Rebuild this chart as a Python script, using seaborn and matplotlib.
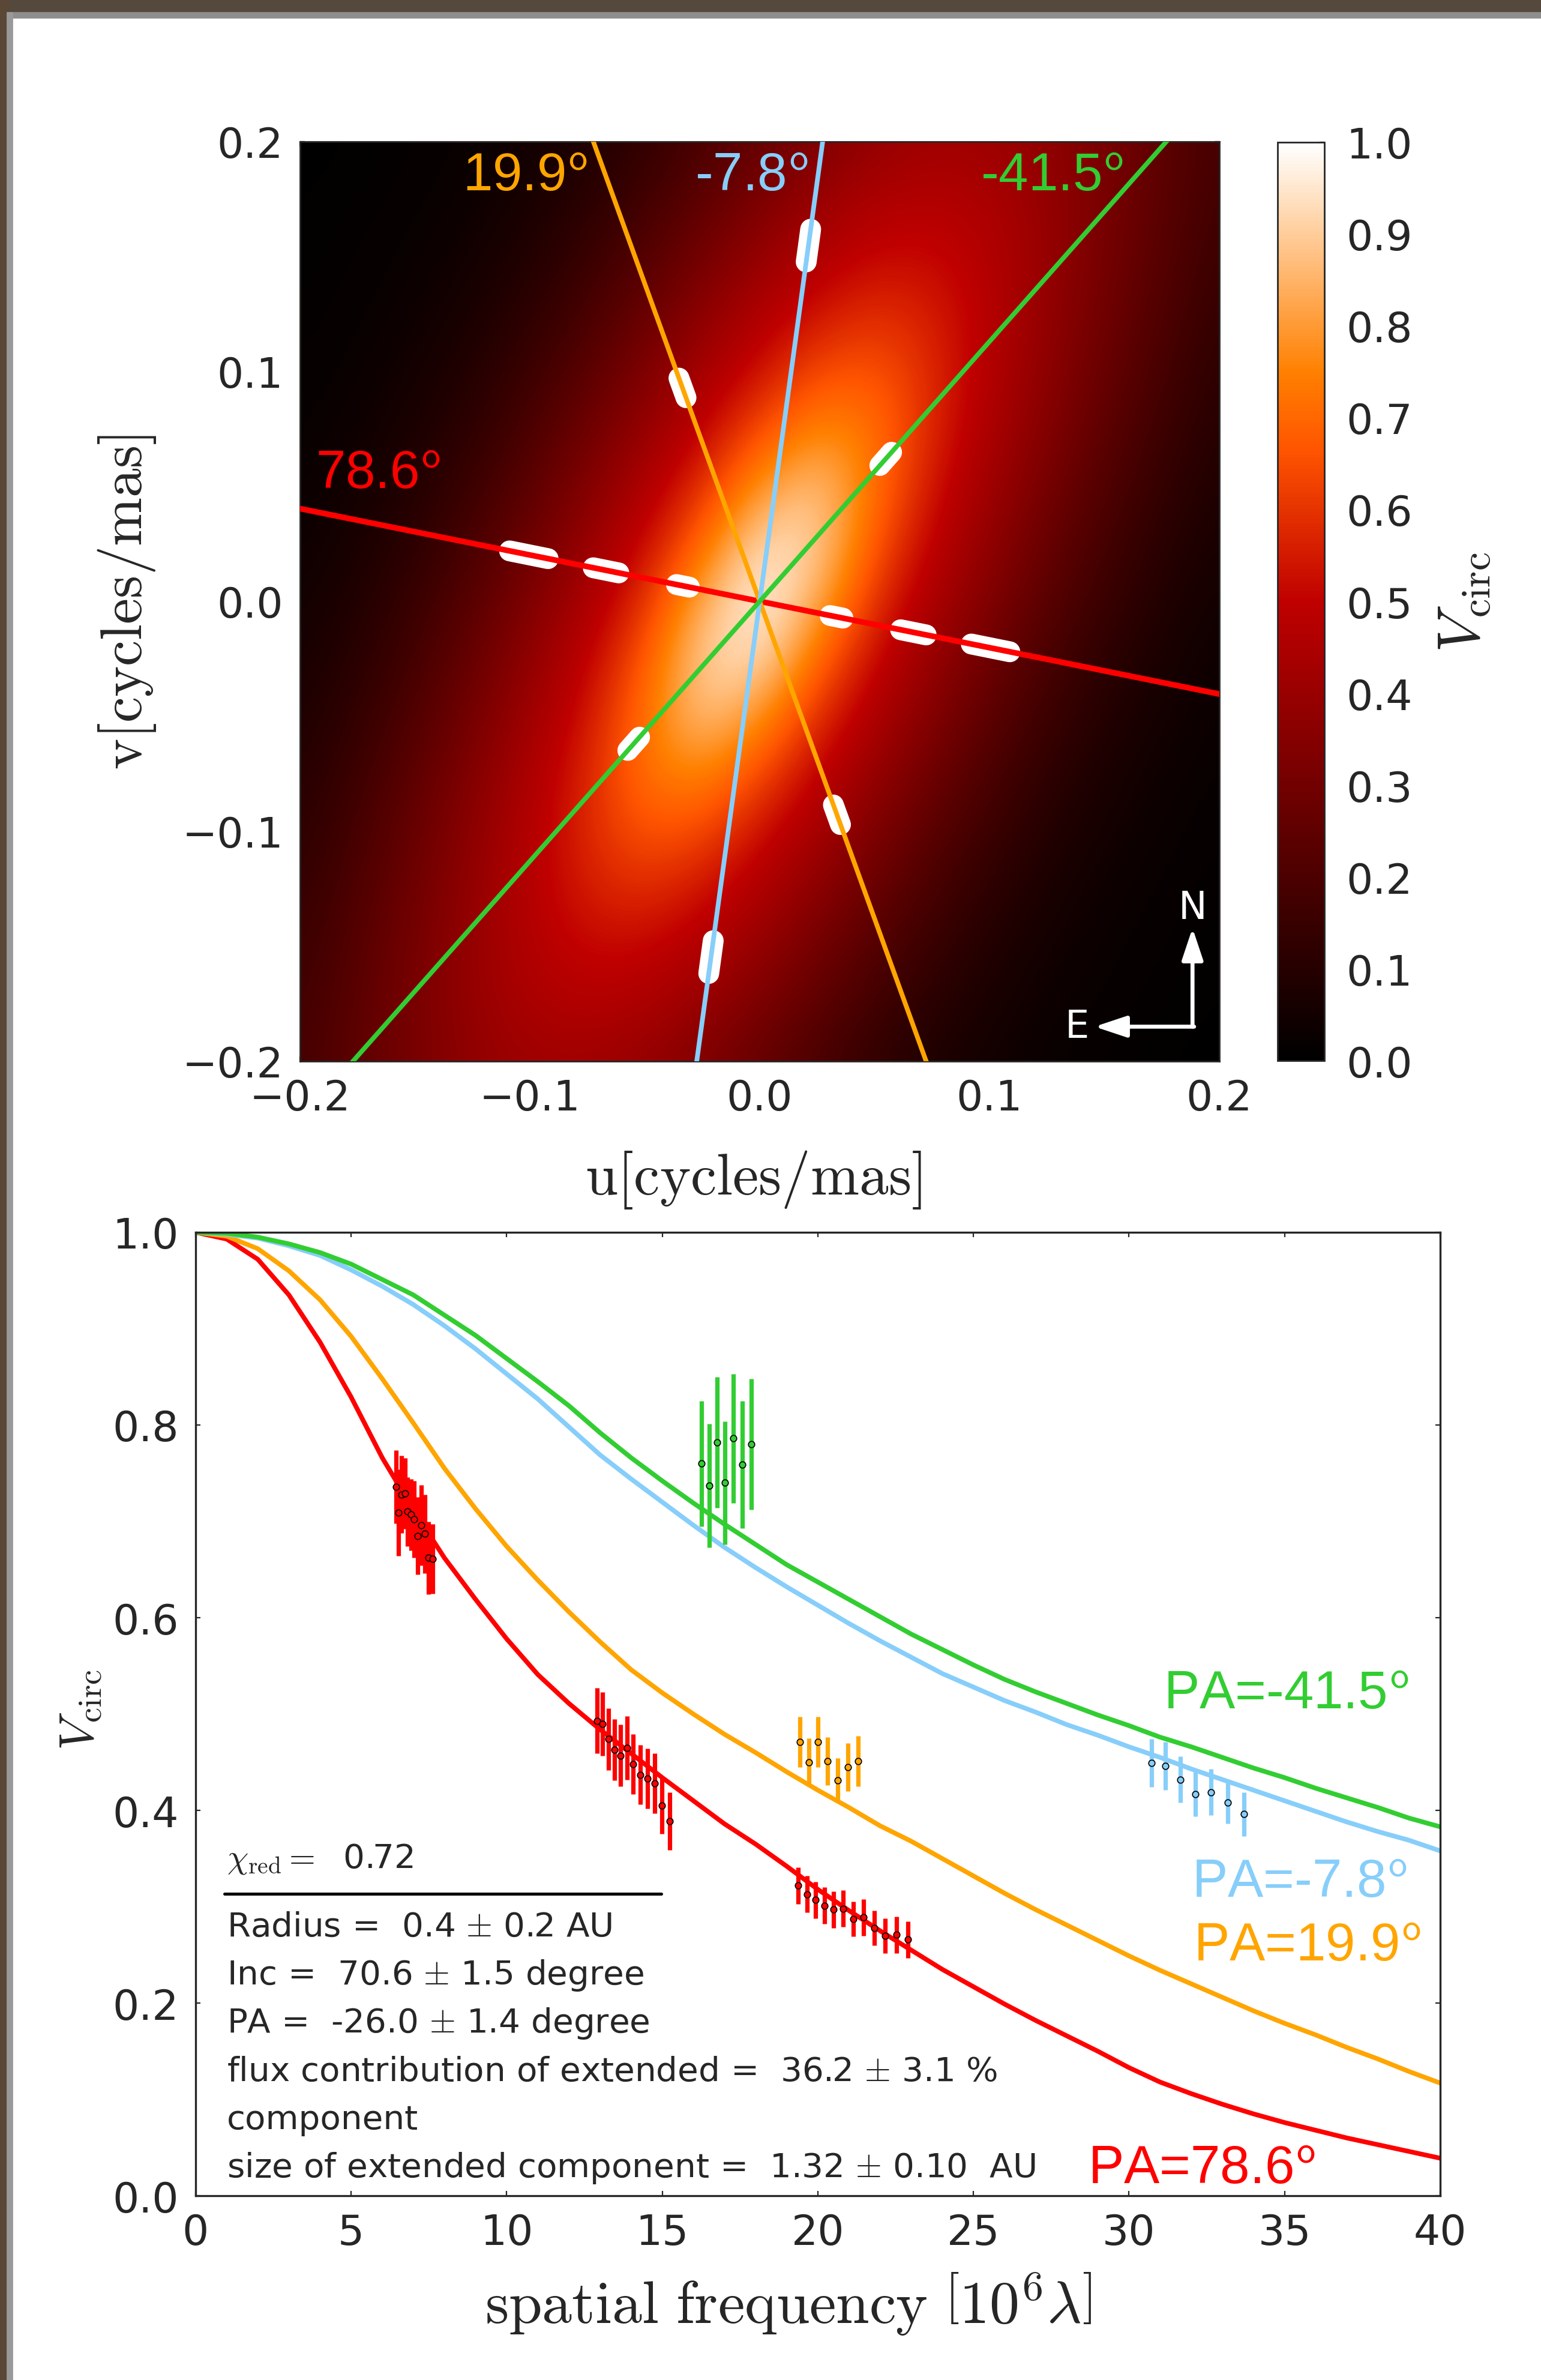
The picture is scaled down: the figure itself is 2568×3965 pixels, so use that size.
import numpy as np
import pandas as pd
import matplotlib
matplotlib.use("Agg")
import matplotlib.pyplot as plt
from matplotlib.patches import Rectangle
import seaborn as sns

# baseline position angles (deg), labels and colours
pa_angles = [78.6, 19.9, -7.8, -41.5]
pa_labels = ["78.6", "19.9", "-7.8", "-41.5"]
pa_colors = ["#ff0000", "#ffa500", "#87cefa", "#32cd32"]

# model V_circ curves read every 1e6 lambda
model_sf = [0, 1, 2, 3, 4, 5, 6, 7, 8, 9, 10, 11, 12, 13, 14, 15, 16, 17, 18, 19, 20,
            21, 22, 23, 24, 25, 26, 27, 28, 29, 30, 31, 32, 33, 34, 35, 36, 37, 38, 39, 40]
model_red = [1.000, 0.993, 0.972, 0.935, 0.886, 0.829, 0.766, 0.712, 0.662, 0.619, 0.578,
             0.541, 0.511, 0.484, 0.459, 0.434, 0.410, 0.386, 0.365, 0.342, 0.318,
             0.296, 0.275, 0.255, 0.235, 0.217, 0.199, 0.182, 0.166, 0.150, 0.133,
             0.118, 0.106, 0.095, 0.085, 0.076, 0.068, 0.060, 0.053, 0.046, 0.039]
model_orange = [1.000, 0.996, 0.983, 0.960, 0.930, 0.892, 0.848, 0.802, 0.755, 0.713, 0.674,
                0.639, 0.606, 0.575, 0.546, 0.522, 0.500, 0.479, 0.460, 0.440, 0.421,
                0.403, 0.384, 0.368, 0.350, 0.332, 0.314, 0.297, 0.281, 0.265, 0.249,
                0.234, 0.220, 0.206, 0.192, 0.179, 0.167, 0.154, 0.142, 0.129, 0.117]
model_blue = [1.000, 0.998, 0.994, 0.986, 0.976, 0.961, 0.944, 0.925, 0.903, 0.879, 0.853,
              0.827, 0.798, 0.769, 0.744, 0.720, 0.696, 0.673, 0.652, 0.632, 0.613,
              0.594, 0.576, 0.559, 0.542, 0.528, 0.514, 0.502, 0.489, 0.478, 0.466,
              0.455, 0.443, 0.432, 0.421, 0.410, 0.399, 0.388, 0.378, 0.369, 0.358]
model_green = [1.000, 0.999, 0.995, 0.988, 0.979, 0.967, 0.951, 0.935, 0.914, 0.893, 0.869,
               0.845, 0.820, 0.792, 0.766, 0.742, 0.719, 0.697, 0.676, 0.655, 0.637,
               0.619, 0.601, 0.583, 0.567, 0.551, 0.536, 0.523, 0.511, 0.499, 0.488,
               0.476, 0.466, 0.455, 0.444, 0.434, 0.423, 0.413, 0.403, 0.392, 0.383]

# measured visibilities (three groups along PA=78.6)
red_sf = [6.44, 6.61, 6.73, 6.53, 6.82, 6.92, 7.03, 7.25, 7.14, 7.37, 7.49, 7.62,
          12.90, 13.07, 13.27, 13.46, 13.66, 13.87, 14.07, 14.30, 14.52, 14.75, 14.99, 15.24,
          19.37, 19.65, 19.93, 20.21, 20.51, 20.82, 21.14, 21.47, 21.82, 22.17, 22.53, 22.90]
red_vis = [0.736, 0.728, 0.729, 0.709, 0.710, 0.707, 0.702, 0.696, 0.685, 0.687, 0.662, 0.661,
           0.493, 0.490, 0.474, 0.463, 0.457, 0.465, 0.448, 0.437, 0.433, 0.428, 0.405, 0.389,
           0.322, 0.313, 0.307, 0.301, 0.297, 0.298, 0.287, 0.289, 0.278, 0.270, 0.271, 0.266]
red_err = [0.038, 0.040, 0.037, 0.045, 0.036, 0.037, 0.040, 0.042, 0.040, 0.041, 0.038, 0.036,
           0.034, 0.033, 0.032, 0.032, 0.032, 0.033, 0.031, 0.031, 0.031, 0.031, 0.029, 0.030,
           0.019, 0.019, 0.019, 0.019, 0.019, 0.019, 0.018, 0.019, 0.018, 0.018, 0.019, 0.019]
red_group_starts = [12, 24]

orange_sf = [19.43, 19.71, 20.01, 20.32, 20.64, 20.96, 21.30]
orange_vis = [0.471, 0.450, 0.471, 0.451, 0.431, 0.445, 0.451]
orange_err = [0.026, 0.025, 0.026, 0.025, 0.023, 0.025, 0.026]

blue_sf = [30.73, 31.17, 31.65, 32.14, 32.64, 33.17, 33.70]
blue_vis = [0.449, 0.446, 0.432, 0.417, 0.419, 0.408, 0.396]
blue_err = [0.025, 0.025, 0.024, 0.023, 0.024, 0.022, 0.023]

green_sf = [16.27, 16.52, 16.77, 17.02, 17.29, 17.57, 17.86]
green_vis = [0.760, 0.737, 0.782, 0.740, 0.786, 0.759, 0.780]
green_err = [0.065, 0.064, 0.068, 0.064, 0.067, 0.066, 0.068]

# model visibility map, rows from v=+0.2 to v=-0.2, columns u=-0.2..0.2, step 0.025
vis_map = [
    [0.005, 0.008, 0.014, 0.025, 0.047, 0.080, 0.129, 0.195, 0.265, 0.335, 0.389, 0.419, 0.415, 0.378, 0.317, 0.247, 0.179],
    [0.007, 0.011, 0.019, 0.035, 0.066, 0.108, 0.173, 0.246, 0.325, 0.397, 0.451, 0.470, 0.448, 0.391, 0.318, 0.239, 0.167],
    [0.009, 0.015, 0.027, 0.051, 0.088, 0.147, 0.220, 0.303, 0.389, 0.464, 0.514, 0.516, 0.469, 0.394, 0.309, 0.225, 0.152],
    [0.011, 0.020, 0.037, 0.070, 0.117, 0.189, 0.273, 0.367, 0.457, 0.539, 0.590, 0.556, 0.476, 0.386, 0.293, 0.207, 0.132],
    [0.015, 0.027, 0.053, 0.092, 0.157, 0.236, 0.331, 0.431, 0.533, 0.643, 0.667, 0.578, 0.469, 0.369, 0.270, 0.185, 0.112],
    [0.020, 0.037, 0.071, 0.120, 0.197, 0.287, 0.390, 0.500, 0.643, 0.769, 0.722, 0.571, 0.448, 0.343, 0.243, 0.161, 0.094],
    [0.027, 0.052, 0.092, 0.157, 0.240, 0.342, 0.452, 0.589, 0.789, 0.889, 0.723, 0.537, 0.416, 0.307, 0.213, 0.133, 0.078],
    [0.035, 0.068, 0.116, 0.194, 0.286, 0.394, 0.515, 0.705, 0.942, 0.915, 0.668, 0.494, 0.377, 0.270, 0.181, 0.107, 0.062],
    [0.048, 0.086, 0.150, 0.232, 0.334, 0.446, 0.591, 0.838, 1.000, 0.838, 0.591, 0.446, 0.334, 0.232, 0.150, 0.086, 0.048],
    [0.062, 0.107, 0.181, 0.270, 0.377, 0.494, 0.668, 0.915, 0.942, 0.705, 0.515, 0.394, 0.286, 0.194, 0.116, 0.068, 0.035],
    [0.078, 0.133, 0.213, 0.307, 0.416, 0.537, 0.723, 0.889, 0.789, 0.589, 0.452, 0.342, 0.240, 0.157, 0.092, 0.052, 0.027],
    [0.094, 0.161, 0.243, 0.343, 0.448, 0.571, 0.722, 0.769, 0.643, 0.500, 0.390, 0.287, 0.197, 0.120, 0.071, 0.037, 0.020],
    [0.112, 0.185, 0.270, 0.369, 0.469, 0.578, 0.667, 0.643, 0.533, 0.431, 0.331, 0.236, 0.157, 0.092, 0.053, 0.027, 0.015],
    [0.132, 0.207, 0.293, 0.386, 0.476, 0.556, 0.590, 0.539, 0.457, 0.367, 0.273, 0.189, 0.117, 0.070, 0.037, 0.020, 0.011],
    [0.152, 0.225, 0.309, 0.394, 0.469, 0.516, 0.514, 0.464, 0.389, 0.303, 0.220, 0.147, 0.088, 0.051, 0.027, 0.015, 0.009],
    [0.167, 0.239, 0.318, 0.391, 0.448, 0.470, 0.451, 0.397, 0.325, 0.246, 0.173, 0.108, 0.066, 0.035, 0.019, 0.011, 0.007],
    [0.179, 0.247, 0.317, 0.378, 0.415, 0.419, 0.389, 0.335, 0.265, 0.195, 0.129, 0.080, 0.047, 0.025, 0.014, 0.008, 0.005],
]

uv_ticks = [-0.2, -0.1, 0.0, 0.1, 0.2]
cbar_ticks = [0.0, 0.1, 0.2, 0.3, 0.4, 0.5, 0.6, 0.7, 0.8, 0.9, 1.0]
sf_ticks = [0, 5, 10, 15, 20, 25, 30, 35, 40]
vis_ticks = [0.0, 0.2, 0.4, 0.6, 0.8, 1.0]

fit_lines = [
    r"Radius =  0.4 $\pm$ 0.2 AU",
    r"Inc =  70.6 $\pm$ 1.5 degree",
    r"PA =  -26.0 $\pm$ 1.4 degree",
    r"flux contribution of extended =  36.2 $\pm$ 3.1 %",
    "component",
    r"size of extended component =  1.32 $\pm$ 0.10  AU",
]

MLAMBDA_PER_CYC_MAS = 206.265  # 1 cycle/mas expressed in 1e6 lambda

sns.set_style("ticks")
plt.rcParams["font.family"] = ["DejaVu Sans"]
plt.rcParams["mathtext.fontset"] = "cm"

W, H = 2568, 3966
fig = plt.figure(figsize=(W / 200, H / 200), dpi=200)
fig.patch.set_facecolor("white")

# border of the photographed page
fig.add_artist(Rectangle((0, 1 - 22 / H), 1, 22 / H, transform=fig.transFigure,
                         color="#55493d", zorder=0))
fig.add_artist(Rectangle((0, 1 - 30 / H), 1, 8 / H, transform=fig.transFigure,
                         color="#8e8e8e", zorder=0))
fig.add_artist(Rectangle((0, 0), 12 / W, 1, transform=fig.transFigure,
                         color="#5a4736", zorder=0))
fig.add_artist(Rectangle((12 / W, 0), 8 / W, 1 - 22 / H, transform=fig.transFigure,
                         color="#999999", zorder=0))

# ---------------- uv-plane map ----------------
ax_uv = fig.add_axes([0.1947, 0.5540, 0.5966, 0.3863])
im = ax_uv.imshow(np.array(vis_map), cmap="gist_heat", vmin=0, vmax=1,
                  extent=[-0.2125, 0.2125, -0.2125, 0.2125], origin="upper",
                  interpolation="bicubic", aspect="auto", zorder=1)

sf_groups = [
    np.split(np.array(red_sf), red_group_starts),
    [np.array(orange_sf)],
    [np.array(blue_sf)],
    [np.array(green_sf)],
]
line_widths = [3.4, 2.8, 2.8, 2.8]
for pa, col, groups, lw in zip(pa_angles, pa_colors, sf_groups, line_widths):
    th = np.deg2rad(pa)
    du, dv = -np.sin(th), np.cos(th)
    ax_uv.plot([-0.3 * du, 0.3 * du], [-0.3 * dv, 0.3 * dv], color=col, lw=lw, zorder=4)
    for grp in groups:
        q0 = grp.min() / MLAMBDA_PER_CYC_MAS
        q1 = grp.max() / MLAMBDA_PER_CYC_MAS
        for s in (1, -1):
            ax_uv.plot([s * q0 * du, s * q1 * du], [s * q0 * dv, s * q1 * dv],
                       color="white", lw=12.5, solid_capstyle="round", zorder=3)

angle_pos = [(-0.166, 0.0553), (-0.102, 0.1850), (-0.0036, 0.1850), (0.127, 0.1850)]
for lab, col, (x, y) in zip(pa_labels, pa_colors, angle_pos):
    ax_uv.text(x, y, lab + r"$^{\mathsf{o}}$", color=col, fontsize=32,
               family="Liberation Sans", ha="center", va="center", zorder=5)

# compass
arrow_kw = dict(arrowstyle="-|>,head_length=0.9,head_width=0.3", color="white",
                lw=2.4, shrinkA=0, shrinkB=0, mutation_scale=18)
ax_uv.annotate("", xy=(0.1883, -0.1421), xytext=(0.1883, -0.1850), arrowprops=arrow_kw, zorder=6)
ax_uv.annotate("", xy=(0.1457, -0.1850), xytext=(0.1890, -0.1850), arrowprops=arrow_kw, zorder=6)
ax_uv.text(0.1883, -0.1332, "N", color="white", fontsize=23, ha="center", va="center", zorder=6)
ax_uv.text(0.1381, -0.1850, "E", color="white", fontsize=23, ha="center", va="center", zorder=6)

ax_uv.set_xlim(-0.2, 0.2)
ax_uv.set_ylim(-0.2, 0.2)
ax_uv.set_xticks(uv_ticks)
ax_uv.set_yticks(uv_ticks)
ax_uv.tick_params(direction="in", top=True, right=True, length=3, width=0.8,
                  labelsize=25, pad=10)
for sp in ax_uv.spines.values():
    sp.set_linewidth(1.0)
ax_uv.set_xlabel(r"$\mathrm{u[cycles/mas]}$", fontsize=35)
ax_uv.set_ylabel(r"$\mathrm{v[cycles/mas]}$", fontsize=35)
ax_uv.xaxis.set_label_coords(0.493, -0.095)
ax_uv.yaxis.set_label_coords(-0.155, 0.5)

cax = fig.add_axes([0.829, 0.5542, 0.0304, 0.3858])
cb = fig.colorbar(im, cax=cax, ticks=cbar_ticks)
cb.ax.set_yticklabels([f"{t:.1f}" for t in cbar_ticks])
cb.ax.tick_params(direction="in", length=3, width=0.8, labelsize=25, pad=13)
cb.outline.set_linewidth(1.0)
cb.set_label(r"$V_{\rm circ}$", fontsize=36)
cb.ax.yaxis.set_label_coords(3.36, 0.5)

# ---------------- visibility curves ----------------
ax_v = fig.add_axes([0.1269, 0.0774, 0.8076, 0.4047])
curves = pd.DataFrame({
    "sf": model_sf * 4,
    "vis": model_red + model_orange + model_blue + model_green,
    "pa": sum([[lab] * len(model_sf) for lab in pa_labels], []),
})
sns.lineplot(data=curves, x="sf", y="vis", hue="pa", hue_order=pa_labels,
             palette=pa_colors, linewidth=2.8, legend=False, ax=ax_v, zorder=2)

series = [(red_sf, red_vis, red_err), (orange_sf, orange_vis, orange_err),
          (blue_sf, blue_vis, blue_err), (green_sf, green_vis, green_err)]
for (sf, vis, err), col in zip(series, pa_colors):
    ax_v.errorbar(sf, vis, yerr=err, fmt="o", color=col, ecolor=col, ms=3.8,
                  mec="black", mew=0.6, elinewidth=2.6, capsize=0, zorder=3)

label_pos = [(32.33, 0.028), (35.73, 0.259), (35.48, 0.325), (35.05, 0.5205)]
for lab, col, (x, y) in zip(pa_labels, pa_colors, label_pos):
    ax_v.text(x, y, "PA=" + lab + r"$^{\mathsf{o}}$", color=col, fontsize=32,
              family="Liberation Sans", ha="center", va="center", zorder=5)

ax_v.text(1.0, 0.341, r"$\chi_{\rm red}=$  0.72", fontsize=20.3, va="baseline")
ax_v.axhline(0.3136, xmin=0.93 / 40, xmax=14.97 / 40, color="black", lw=1.8)
for i, line in enumerate(fit_lines):
    ax_v.text(1.0, 0.270 - 0.050 * i, line, fontsize=20.3, va="baseline")

ax_v.set_xlim(0, 40)
ax_v.set_ylim(0, 1)
ax_v.set_xticks(sf_ticks)
ax_v.set_yticks(vis_ticks)
ax_v.set_yticklabels([f"{t:.1f}" for t in vis_ticks])
ax_v.tick_params(direction="in", top=True, right=True, length=3, width=0.8,
                 labelsize=25, pad=10)
for sp in ax_v.spines.values():
    sp.set_linewidth(1.2)
ax_v.set_xlabel(r"$\mathrm{spatial\ frequency}\ \left[10^6\lambda\right]$", fontsize=36)
ax_v.set_ylabel(r"$V_{\rm circ}$", fontsize=29)
ax_v.xaxis.set_label_coords(0.476, -0.078)
ax_v.yaxis.set_label_coords(-0.074, 0.505)

fig.savefig("out.png", dpi=200)
